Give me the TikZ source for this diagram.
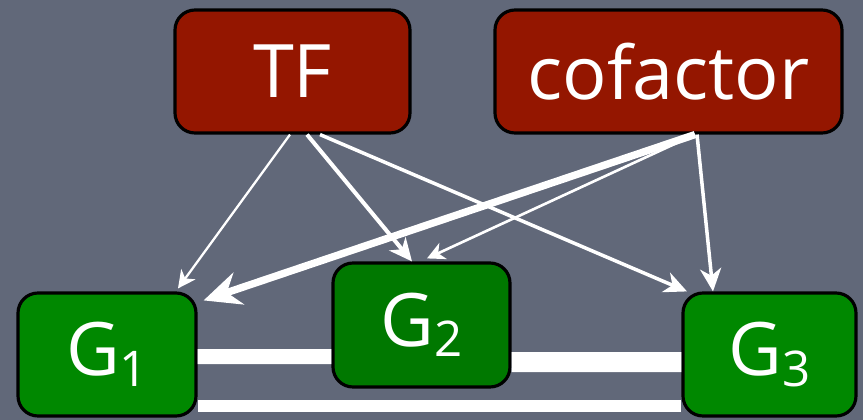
\documentclass[tikz,border=0pt]{standalone}
\usepackage{fontspec}
\setmainfont{Open Sans}
\usepackage{xcolor}
\usepackage{tikz}
\usetikzlibrary{arrows.meta, positioning}

\definecolor{slate}{RGB}{97,104,121}
\definecolor{tfred}{RGB}{148,22,0}
\definecolor{genegreen}{RGB}{0,136,0}
\definecolor{genedark}{RGB}{0,120,0}
\newcommand{\gidx}[1]{\raisebox{-6pt}{\fontsize{28}{32}\selectfont #1}}

\begin{document}
\begin{tikzpicture}[
    box/.style={draw=black, line width=1.8pt, rounded corners=0.4cm, minimum height=2.46cm, inner sep=0pt, align=center, text=white, font=\fontsize{42}{48}\selectfont},
    link/.style={draw=white, line cap=butt},
    arr thin/.style={draw=white, line width=1.3pt, -{Stealth[length=10pt, width=10pt, inset=3pt]}},
    arr mid/.style={draw=white, line width=2.3pt, -{Stealth[length=13pt, width=12pt, inset=4pt]}},
    arr thick/.style={draw=white, line width=4.2pt, -{Stealth[length=21pt, width=19pt, inset=7pt]}}
]
    % chalkboard
    \useasboundingbox (0,0) rectangle (17.26,-8.4);
    \fill[slate] (0,0) rectangle (17.26,-8.4);

    % regulators
    \node[box, fill=tfred, minimum width=4.7cm] at (5.85,-1.43) (TF) {TF};
    \node[box, fill=tfred, minimum width=6.94cm] at (13.37,-1.43) (cof) {cofactor};

    % genes
    \node[box, fill=genegreen, minimum width=3.56cm] at (2.14,-7.09) (G1) {G\gidx{1}};
    \node[box, fill=genedark, minimum width=3.54cm, minimum height=2.48cm] at (8.43,-6.5) (G2) {G\gidx{2}};
    \node[box, fill=genegreen, minimum width=3.46cm] at (15.39,-7.09) (G3) {G\gidx{3}};

    % co-expression links
    \draw[link, line width=0.3cm] ([yshift=-0.04cm]G1.east) -- ([yshift=-0.63cm]G2.west);
    \draw[link, line width=0.4cm] ([yshift=-0.74cm]G2.east) -- ([yshift=-0.15cm]G3.west);
    \draw[link, line width=0.24cm] ([yshift=-1.03cm]G1.east) -- ([yshift=-1.03cm]G3.west);

    % TF targets
    \draw[arr thin] ([xshift=-0.05cm]TF.south) -- ([xshift=1.42cm, yshift=0.06cm]G1.north);
    \draw[arr mid] ([xshift=0.29cm]TF.south) -- ([xshift=-0.19cm]G2.north);
    \draw[arr mid, line width=2pt] ([xshift=0.55cm]TF.south) -- ([xshift=-1.65cm]G3.north);

    % cofactor targets
    \draw[arr thick] ([xshift=0.53cm]cof.south) -- ([xshift=0.12cm, yshift=-0.18cm]G1.north east);
    \draw[arr thin, line width=1.5pt] ([xshift=0.53cm]cof.south) -- ([xshift=0.11cm, yshift=0.06cm]G2.north);
    \draw[arr mid, line width=2pt] ([xshift=0.57cm]cof.south) -- ([xshift=-1.13cm]G3.north);
\end{tikzpicture}
\end{document}
